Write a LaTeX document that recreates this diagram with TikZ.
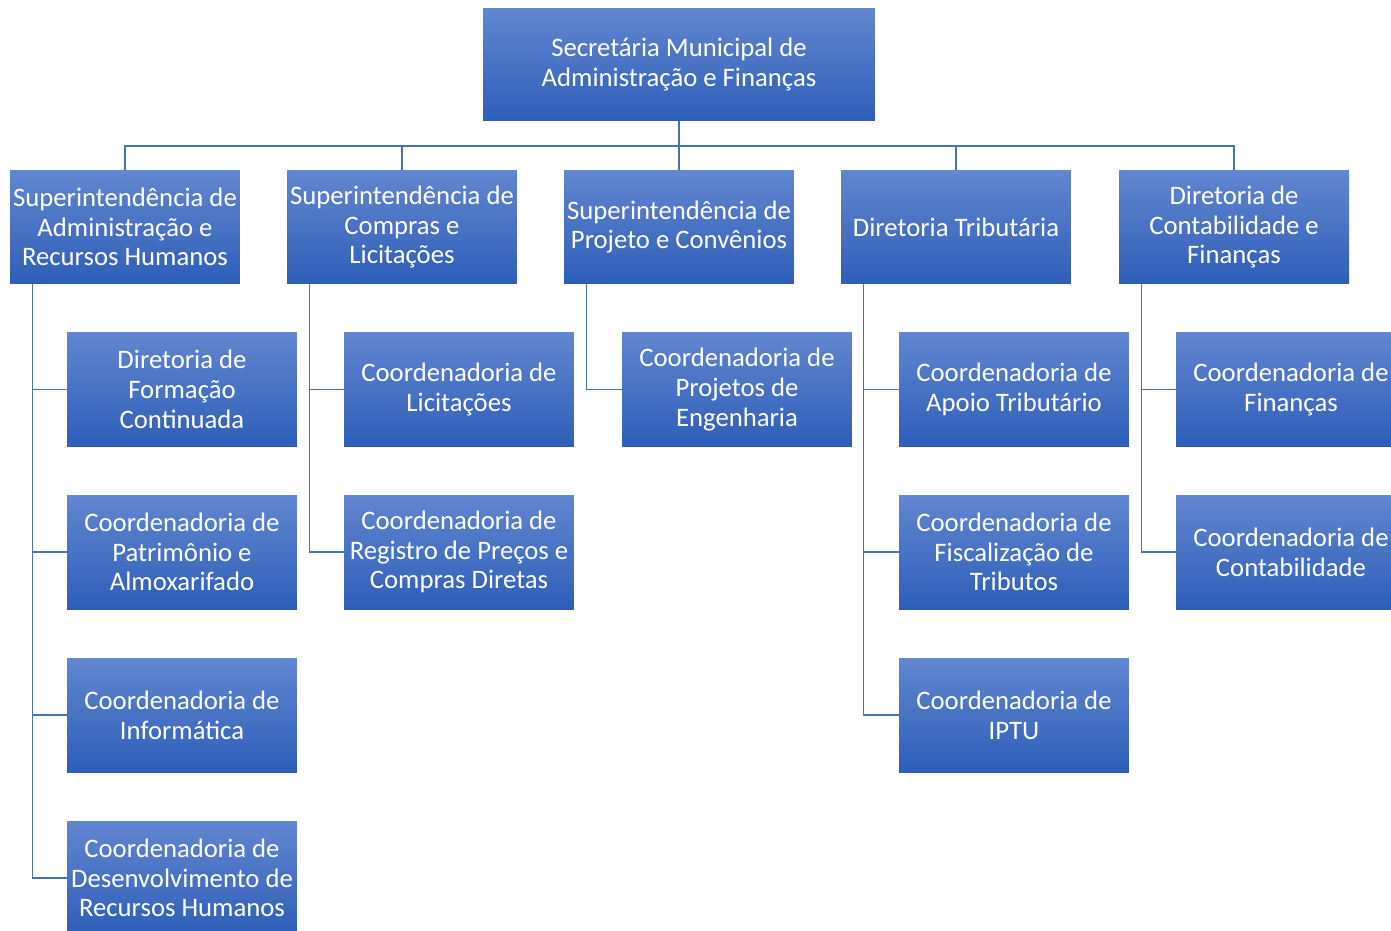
\documentclass[tikz,border=0pt]{standalone}
\usepackage{fontspec}
\setmainfont{Carlito}
\usepackage{xcolor}
\usepackage{tikz}
\definecolor{boxtop}{HTML}{6286D0}
\definecolor{boxbot}{HTML}{2E5EB8}
\definecolor{wire}{HTML}{4A70B8}

\begin{document}
\begin{tikzpicture}[x=0.02cm,y=-0.02cm]
\tikzstyle{unit}=[rectangle,draw=none,top color=boxtop,bottom color=boxbot,
  text=white,align=center,inner sep=0pt,minimum width=4.6cm,minimum height=2.28cm,
  font=\fontsize{15.2}{16.9}\selectfont]
\tikzstyle{wires}=[draw=wire,line width=0.8pt]
\useasboundingbox (0,0) rectangle (1391,930);
% top
\node [unit,minimum width=7.84cm,minimum height=2.26cm] (sec) at (679,64.5) {Secretária Municipal de\\Administração e Finanças};
% superintendencias / diretorias
\node [unit] (adm) at (125,227) {Superintendência de\\Administração e\\Recursos Humanos};
\node [unit] (cmp) at (402,227) {Superintendência de\\Compras e\\Licitações};
\node [unit] (prj) at (679,227) {Superintendência de\\Projeto e Convênios};
\node [unit] (trb) at (956,227) {Diretoria Tributária};
\node [unit] (ctb) at (1234,227) {Diretoria de\\Contabilidade e\\Finanças};
% coordenadorias
\node [unit] (adm1) at (182,389.5) {Diretoria de\\Formação\\Continuada};
\node [unit] (adm2) at (182,552) {Coordenadoria de\\Patrimônio e\\Almoxarifado};
\node [unit] (adm3) at (182,715) {Coordenadoria de\\Informática};
\node [unit] (adm4) at (182,878) {Coordenadoria de\\Desenvolvimento de\\Recursos Humanos};
\node [unit] (cmp1) at (459,389.5) {Coordenadoria de\\Licitações};
\node [unit] (cmp2) at (459,552) {Coordenadoria de\\Registro de Preços e\\Compras Diretas};
\node [unit] (prj1) at (737,389.5) {Coordenadoria de\\Projetos de\\Engenharia};
\node [unit] (trb1) at (1014,389.5) {Coordenadoria de\\Apoio Tributário};
\node [unit] (trb2) at (1014,552) {Coordenadoria de\\Fiscalização de\\Tributos};
\node [unit] (trb3) at (1014,715) {Coordenadoria de\\IPTU};
\node [unit] (ctb1) at (1291,389.5) {Coordenadoria de\\Finanças};
\node [unit] (ctb2) at (1291,552) {Coordenadoria de\\Contabilidade};
% wires
\coordinate (bus) at (679,146);
\draw [wires] (sec.south) -- (bus);
\foreach \s in {adm,cmp,prj,trb,ctb}
  \draw [wires] (bus) -| (\s.north);
\foreach \s/\c in {adm/adm1,adm/adm2,adm/adm3,adm/adm4,cmp/cmp1,cmp/cmp2,prj/prj1,trb/trb1,trb/trb2,trb/trb3,ctb/ctb1,ctb/ctb2}
  \draw [wires] (\s.south west) ++(23,0) |- (\c.west);
\end{tikzpicture}
\end{document}
